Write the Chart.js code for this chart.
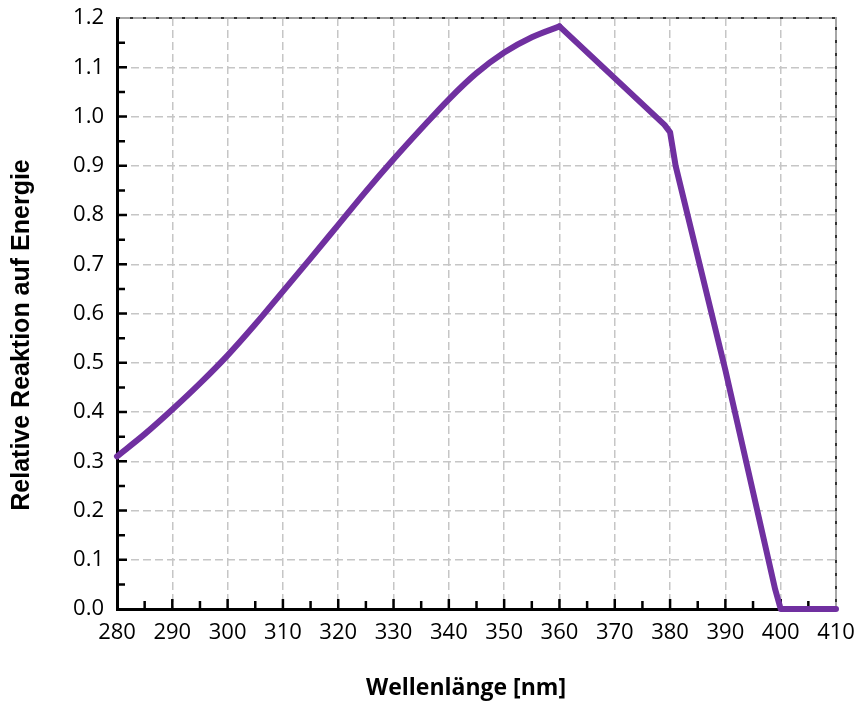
<!DOCTYPE html>
<html>
<head>
<meta charset="utf-8">
<script src="https://cdn.jsdelivr.net/npm/chart.js@4.4.1/dist/chart.umd.min.js"></script>
<style>
  body { margin: 0; background: #fff; }
</style>
</head>
<body>
<canvas id="chart" width="860" height="706"></canvas>
<script>
// rising, curved part of the response
const riseWavelengths = [280, 285, 290, 295, 300, 305, 310, 315, 320, 325, 330, 335, 340, 345, 350, 355, 360];
const riseResponse = [0.31, 0.355, 0.405, 0.458, 0.515, 0.578, 0.645, 0.712, 0.78, 0.848, 0.913, 0.975, 1.035, 1.088, 1.13, 1.161, 1.183];
// falling, straight part
const fallWavelengths = [360, 379, 380, 381, 390, 399, 400, 405, 410];
const fallResponse = [1.183, 0.983, 0.968, 0.9, 0.485, 0.04, 0, 0, 0];

const xTitle = 'Wellenlänge [nm]';
const yTitle = 'Relative Reaktion auf Energie';
const lineColor = '#7030A0';
const gridColor = '#c6c6c6';

const risePoints = riseWavelengths.map((w, i) => ({ x: w, y: riseResponse[i] }));
const fallPoints = fallWavelengths.map((w, i) => ({ x: w, y: fallResponse[i] }));

// inward ticks, top/right frame and axis titles
const decorations = {
  id: 'decorations',
  beforeDatasetsDraw(chart) {
    const ctx = chart.ctx;
    const a = chart.chartArea;
    const xs = chart.scales.x;
    const ys = chart.scales.y;
    ctx.save();

    // top and right frame
    ctx.strokeStyle = '#a6a6a6';
    ctx.lineWidth = 2;
    ctx.beginPath();
    ctx.moveTo(a.left, a.top);
    ctx.lineTo(a.right, a.top);
    ctx.lineTo(a.right, a.bottom);
    ctx.stroke();
    ctx.strokeStyle = '#333';
    ctx.setLineDash([3, 10]);
    ctx.beginPath();
    ctx.moveTo(a.left, a.top);
    ctx.lineTo(a.right, a.top);
    ctx.lineTo(a.right, a.bottom);
    ctx.stroke();
    ctx.setLineDash([]);

    ctx.strokeStyle = '#000';
    ctx.lineWidth = 2.5;
    ctx.beginPath();
    for (let v = 285; v < 410; v += 5) {
      const px = xs.getPixelForValue(v);
      const len = v % 10 === 0 ? 10 : 8;
      ctx.moveTo(px, a.bottom);
      ctx.lineTo(px, a.bottom - len);
    }
    for (let i = 1; i < 24; i++) {
      const py = ys.getPixelForValue(i * 0.05);
      const len = i % 2 === 0 ? 10 : 8;
      ctx.moveTo(a.left, py);
      ctx.lineTo(a.left + len, py);
    }
    ctx.stroke();
    ctx.restore();
  },
  afterDraw(chart) {
    const ctx = chart.ctx;
    ctx.save();
    ctx.fillStyle = '#000';
    ctx.textAlign = 'center';
    ctx.textBaseline = 'middle';
    ctx.font = 'bold 23px "Open Sans"';
    ctx.fillText(xTitle, 466, 688);
    ctx.translate(22, 335);
    ctx.rotate(-Math.PI / 2);
    ctx.font = 'bold 25px "Liberation Sans"';
    ctx.fillText(yTitle, 0, 0);
    ctx.restore();
  }
};

const lineStyle = {
  borderColor: lineColor,
  borderWidth: 6,
  borderCapStyle: 'round',
  borderJoinStyle: 'round',
  pointRadius: 0,
  clip: false
};

new Chart(document.getElementById('chart'), {
  type: 'line',
  data: {
    datasets: [
      Object.assign({ data: risePoints, cubicInterpolationMode: 'monotone' }, lineStyle),
      Object.assign({ data: fallPoints, tension: 0 }, lineStyle)
    ]
  },
  options: {
    responsive: false,
    animation: false,
    layout: { padding: { left: 0, right: 24, top: 18, bottom: 0 } },
    plugins: { legend: { display: false }, tooltip: { enabled: false } },
    scales: {
      x: {
        type: 'linear',
        min: 280,
        max: 410,
        afterFit(scale) {
          scale.height = 97;
          scale.paddingLeft = 0;
          scale.paddingRight = 0;
        },
        border: { color: '#000', width: 3, dash: [8, 4] },
        grid: { color: gridColor, lineWidth: 1.5, drawTicks: false },
        ticks: {
          stepSize: 10,
          padding: 11,
          color: '#000',
          font: { family: 'Open Sans', size: 22 }
        }
      },
      y: {
        min: 0,
        max: 1.2,
        afterFit(scale) {
          scale.width = 117;
          scale.paddingTop = 0;
          scale.paddingBottom = 0;
        },
        border: { color: '#000', width: 3, dash: [8, 4] },
        grid: { color: gridColor, lineWidth: 1.5, drawTicks: false },
        ticks: {
          stepSize: 0.1,
          padding: 13,
          color: '#000',
          font: { family: 'Open Sans', size: 22 },
          callback: v => v.toFixed(1)
        }
      }
    }
  },
  plugins: [decorations]
});
</script>
</body>
</html>
